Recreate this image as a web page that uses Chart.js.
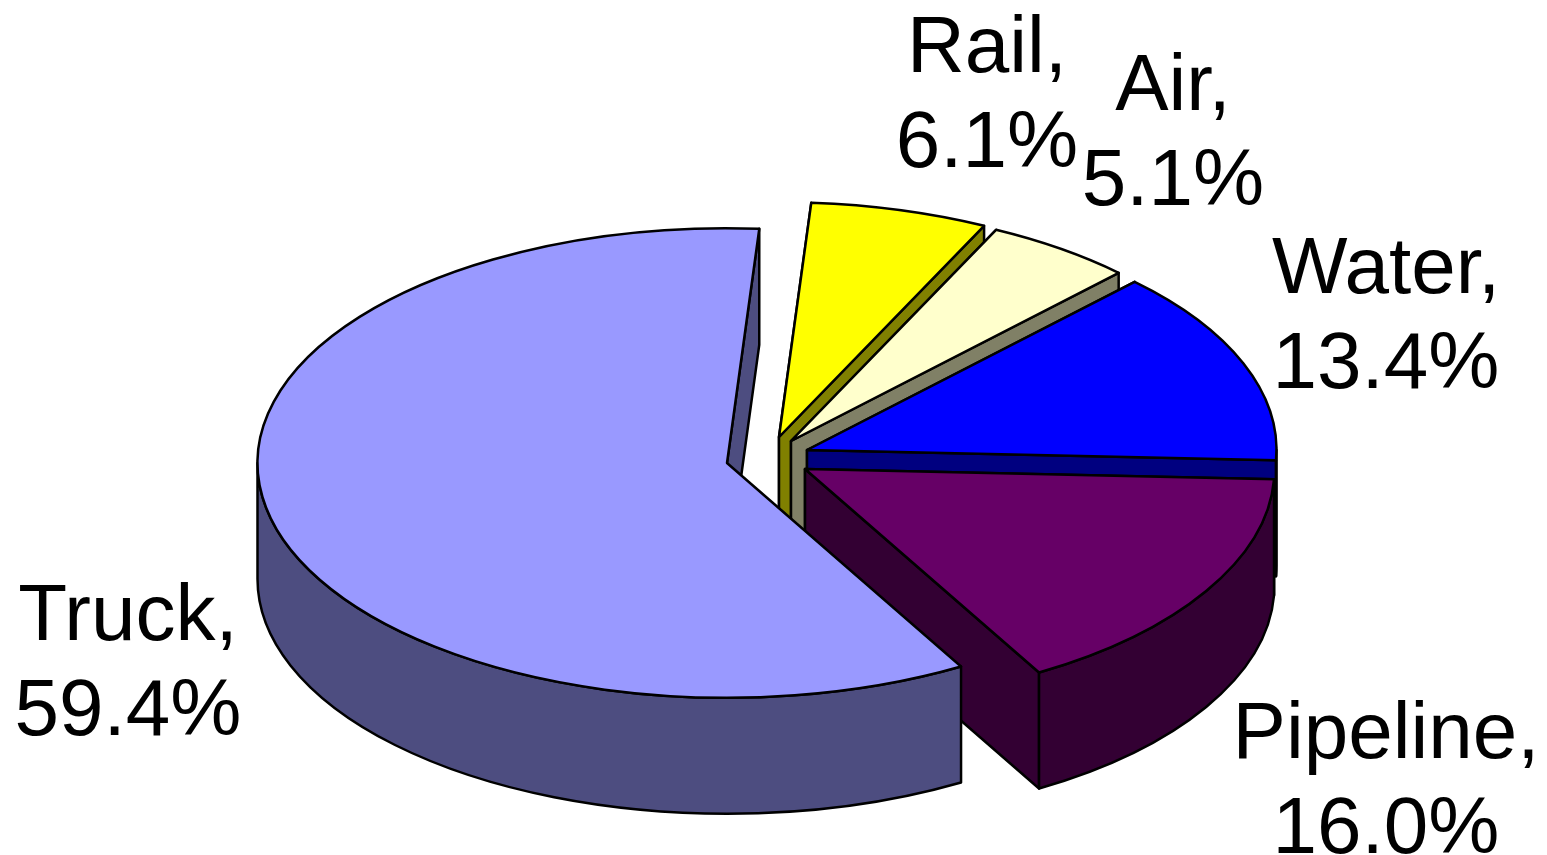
<!DOCTYPE html>
<html>
<head>
<meta charset="utf-8">
<title>Freight by mode</title>
<script src="https://cdn.jsdelivr.net/npm/chart.js@4"></script>
<style>
  html, body { margin: 0; padding: 0; background: #fff; }
  canvas { display: block; }
</style>
</head>
<body>
<canvas id="modeShare" width="1547" height="855"></canvas>
<script>
// Data
var categories = ['Truck', 'Rail', 'Air', 'Water', 'Pipeline'];
var shares = [59.4, 6.1, 5.1, 13.4, 16.0];

// Colours of the top faces and the walls
var topColors = ['#9999FF', '#FFFF00', '#FFFFCC', '#0000FF', '#660066'];
var wallColors = ['#4D4D80', '#808000', '#808066', '#000080', '#330033'];

// Look of the fake 3D
var SQUASH = 0.5;
var DEPTH = 116;
var explodeX = [0, 52, 64, 80, 78];
var explodeY = [0, -26, -22, -13, 6];
var labelX = [128, 987, 1173, 1386, 1386];
var labelY = [640, 72, 110, 293, 758];
var LINE_GAP = 95;

function rimX(arc, i, a) { return arc.x + explodeX[i] + arc.outerRadius * Math.cos(a); }
function rimY(arc, i, a) { return arc.y + explodeY[i] + arc.outerRadius * SQUASH * Math.sin(a); }

function paint(ctx, fill) {
    ctx.fillStyle = fill;
    ctx.fill();
    ctx.strokeStyle = '#000';
    ctx.lineWidth = 2.5;
    ctx.lineJoin = 'round';
    ctx.stroke();
}

// flat wall from the centre out to the rim at angle a
function drawRadialWall(ctx, arc, i, a) {
    var cx = arc.x + explodeX[i], cy = arc.y + explodeY[i];
    ctx.beginPath();
    ctx.moveTo(cx, cy);
    ctx.lineTo(rimX(arc, i, a), rimY(arc, i, a));
    ctx.lineTo(rimX(arc, i, a), rimY(arc, i, a) + DEPTH);
    ctx.lineTo(cx, cy + DEPTH);
    ctx.closePath();
    paint(ctx, wallColors[i]);
}

// curved wall, only the part of the rim that faces the viewer
function drawOuterWall(ctx, arc, i) {
    var full = Math.PI * 2;
    [0, full].forEach(function (from) {
        var a0 = Math.max(arc.startAngle, from);
        var a1 = Math.min(arc.endAngle, from + Math.PI);
        if (a1 <= a0) return;
        var cx = arc.x + explodeX[i], cy = arc.y + explodeY[i];
        var rx = arc.outerRadius, ry = rx * SQUASH;
        ctx.beginPath();
        ctx.ellipse(cx, cy, rx, ry, 0, a0, a1);
        ctx.ellipse(cx, cy + DEPTH, rx, ry, 0, a1, a0, true);
        ctx.closePath();
        paint(ctx, wallColors[i]);
    });
}

function drawTop(ctx, arc, i) {
    var cx = arc.x + explodeX[i], cy = arc.y + explodeY[i];
    ctx.save();
    ctx.translate(explodeX[i], arc.y + explodeY[i]);
    ctx.scale(1, SQUASH);
    ctx.translate(0, -arc.y);
    arc.draw(ctx);
    ctx.restore();
    ctx.beginPath();
    ctx.moveTo(cx, cy);
    ctx.ellipse(cx, cy, arc.outerRadius, arc.outerRadius * SQUASH, 0, arc.startAngle, arc.endAngle);
    ctx.closePath();
    ctx.strokeStyle = '#000';
    ctx.lineWidth = 2.5;
    ctx.lineJoin = 'round';
    ctx.stroke();
}

var pie3d = {
    id: 'pie3d',
    beforeDatasetDraw: function (chart, args) {
        var ctx = chart.ctx;
        var arcs = args.meta.data;
        // back wall of the truck slice goes under everything else
        drawRadialWall(ctx, arcs[0], 0, arcs[0].endAngle);
        // then back to front, truck last because it overlaps the others
        [1, 2, 3, 4, 0].forEach(function (i) {
            var arc = arcs[i];
            if (i !== 0) {
                drawRadialWall(ctx, arc, i, arc.startAngle);
                drawRadialWall(ctx, arc, i, arc.endAngle);
            }
            drawOuterWall(ctx, arc, i);
            drawTop(ctx, arc, i);
        });
        return false;
    },
    afterDatasetsDraw: function (chart) {
        var ctx = chart.ctx;
        ctx.save();
        ctx.fillStyle = '#000';
        ctx.font = '80px "Liberation Sans", Arial, sans-serif';
        ctx.textAlign = 'center';
        ctx.textBaseline = 'alphabetic';
        categories.forEach(function (name, i) {
            ctx.fillText(name + ',', labelX[i], labelY[i]);
            ctx.fillText(shares[i].toFixed(1) + '%', labelX[i], labelY[i] + LINE_GAP);
        });
        ctx.restore();
    }
};

var chart = new Chart(document.getElementById('modeShare').getContext('2d'), {
    type: 'pie',
    data: {
        labels: categories,
        datasets: [{
            data: shares,
            backgroundColor: topColors,
            borderWidth: 0,
            clip: false
        }]
    },
    plugins: [pie3d],
    options: {
        responsive: false,
        animation: false,
        events: [],
        rotation: 150.1,
        radius: 469.5,
        // pushes the pie centre to 727,463
        layout: { padding: { right: 93, top: 71 } },
        plugins: {
            legend: { display: false },
            tooltip: { enabled: false }
        }
    }
});
</script>
</body>
</html>
